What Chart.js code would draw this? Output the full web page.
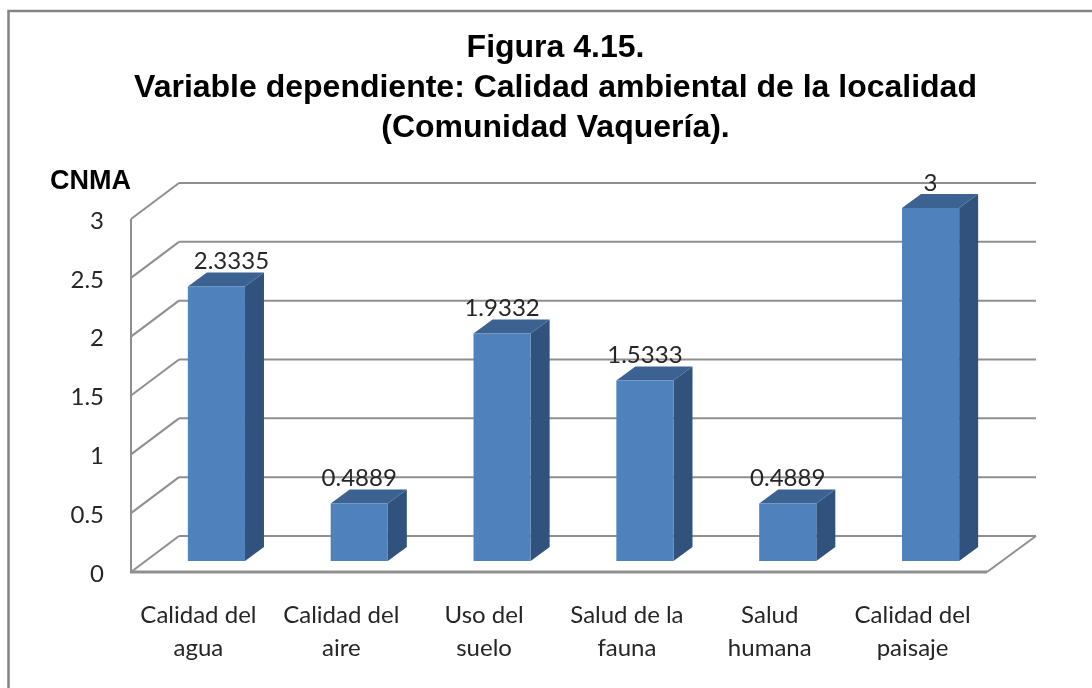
<!DOCTYPE html>
<html>
<head>
<meta charset="utf-8">
<script src="https://cdn.jsdelivr.net/npm/chart.js@4"></script>
<style>
  html, body { margin: 0; padding: 0; background: #fff; overflow: hidden; }
  canvas { display: block; }
</style>
</head>
<body>
<canvas id="canvasCalidad" width="1092" height="688"></canvas>
<script>
const categories = [
    ['Calidad del', 'agua'],
    ['Calidad del', 'aire'],
    ['Uso del', 'suelo'],
    ['Salud de la', 'fauna'],
    ['Salud', 'humana'],
    ['Calidad del', 'paisaje']
];
const cnmaValues = [2.3335, 0.4889, 1.9332, 1.5333, 0.4889, 3];
const titleLines = [
    'Figura 4.15.',
    'Variable dependiente: Calidad ambiental de la localidad',
    '(Comunidad Vaquería).'
];

// fake 3D, the wall goes back by this much
const wallX = 49, wallY = -36;
// bars stand a bit behind the front of the floor
const barShiftX = 15, barShiftY = -11;
const barDepthX = 19, barDepthY = -14;

const gridColor = '#8f8f8f';
const labelFont = '24px Lato';
const labelColor = '#262626';

function line(ctx, x1, y1, x2, y2) {
    ctx.beginPath();
    ctx.moveTo(x1, y1);
    ctx.lineTo(x2, y2);
    ctx.stroke();
}

function poly(ctx, pts, color) {
    ctx.fillStyle = color;
    ctx.beginPath();
    ctx.moveTo(pts[0][0], pts[0][1]);
    for (let i = 1; i < pts.length; i++) {
        ctx.lineTo(pts[i][0], pts[i][1]);
    }
    ctx.closePath();
    ctx.fill();
}

const bars3d = {
    id: 'bars3d',
    afterLayout(chart) {
        // title is centred a little left of the plot
        chart.titleBlock.left -= 3;
        chart.titleBlock.right -= 3;
    },
    beforeDraw(chart) {
        let ctx = chart.ctx;
        ctx.save();
        ctx.fillStyle = '#fff';
        ctx.fillRect(0, 0, chart.width, chart.height);
        // frame runs off the picture on the right and at the bottom
        ctx.strokeStyle = '#858585';
        ctx.lineWidth = 2.5;
        ctx.strokeRect(8.5, 11, 1100, 700);

        ctx.fillStyle = '#000';
        ctx.font = 'bold 27px "Liberation Sans"';
        ctx.textAlign = 'left';
        ctx.textBaseline = 'middle';
        ctx.fillText('CNMA', 50, 182);
        ctx.restore();
    },
    beforeDatasetsDraw(chart) {
        let ctx = chart.ctx;
        let area = chart.chartArea;
        let yScale = chart.scales.y;

        ctx.save();
        ctx.strokeStyle = gridColor;
        ctx.lineWidth = 2;
        yScale.ticks.forEach(function (t) {
            let y = yScale.getPixelForValue(t.value);
            line(ctx, area.left + 1, y, area.left + wallX, y + wallY);
            line(ctx, area.left + wallX, y + wallY, area.right + wallX, y + wallY);
        });
        // axis and front of the floor
        let y0 = yScale.getPixelForValue(0);
        line(ctx, area.left + 1, area.top, area.left + 1, y0);
        ctx.lineWidth = 3;
        line(ctx, area.left, y0, area.right, y0);
        ctx.lineWidth = 2;
        line(ctx, area.right, y0, area.right + wallX, y0 + wallY);

        // side and top of each bar
        chart.getDatasetMeta(0).data.forEach(function (bar) {
            let w = bar.width / 2;
            let l = bar.x - w + barShiftX, r = bar.x + w + barShiftX;
            let top = bar.y + barShiftY, bottom = bar.base + barShiftY;
            poly(ctx, [[r, top], [r + barDepthX, top + barDepthY], [r + barDepthX, bottom + barDepthY], [r, bottom]], '#31527c');
            poly(ctx, [[l, top], [l + barDepthX, top + barDepthY], [r + barDepthX, top + barDepthY], [r, top]], '#3c6292');
        });
        ctx.restore();

        // the front face is the library's own bar, moved back
        ctx.save();
        ctx.translate(barShiftX, barShiftY);
    },
    afterDatasetsDraw(chart) {
        let ctx = chart.ctx;
        ctx.restore();

        ctx.save();
        ctx.font = labelFont;
        ctx.fillStyle = labelColor;
        ctx.textAlign = 'center';
        ctx.textBaseline = 'bottom';
        chart.getDatasetMeta(0).data.forEach(function (bar, i) {
            // first label sits further right in the original
            let x = bar.x + barShiftX + (i === 0 ? 15 : 0);
            ctx.fillText(String(cnmaValues[i]), x, bar.y + barShiftY + barDepthY + 1);
        });
        ctx.restore();
    }
};

let myChart = {
    type: 'bar',
    data: {
        labels: categories,
        datasets: [{
            label: 'CNMA',
            data: cnmaValues,
            backgroundColor: '#4f81bd',
            borderWidth: 0,
            barPercentage: 0.4,
            categoryPercentage: 1,
            clip: false
        }]
    },
    options: {
        responsive: false,
        animation: false,
        layout: { padding: { left: 0, right: 105, top: 28, bottom: 16 } },
        plugins: {
            legend: { display: false },
            tooltip: { enabled: false },
            title: {
                display: true,
                fullSize: false,
                text: titleLines,
                color: '#000',
                font: { family: '"Liberation Sans"', size: 32, weight: 'bold', lineHeight: 1.25 },
                padding: { top: 0, bottom: 71 }
            }
        },
        scales: {
            x: {
                grid: { display: false },
                border: { display: false },
                afterFit(axis) { axis.height = 100; },
                ticks: {
                    color: labelColor,
                    font: { family: 'Lato', size: 24, lineHeight: 1.375 },
                    padding: 19,
                    labelOffset: -3,
                    maxRotation: 0,
                    autoSkip: false
                }
            },
            y: {
                min: 0,
                max: 3,
                grid: { display: false, drawTicks: false },
                border: { display: false },
                afterFit(axis) { axis.width = 130; },
                ticks: {
                    stepSize: 0.5,
                    color: labelColor,
                    font: { family: 'Lato', size: 24 },
                    padding: 26,
                    labelOffset: 2,
                    callback: function (value) { return String(value); }
                }
            }
        }
    },
    plugins: [bars3d]
};

let ctx = document.getElementById('canvasCalidad').getContext('2d');
new Chart(ctx, myChart);
</script>
</body>
</html>
